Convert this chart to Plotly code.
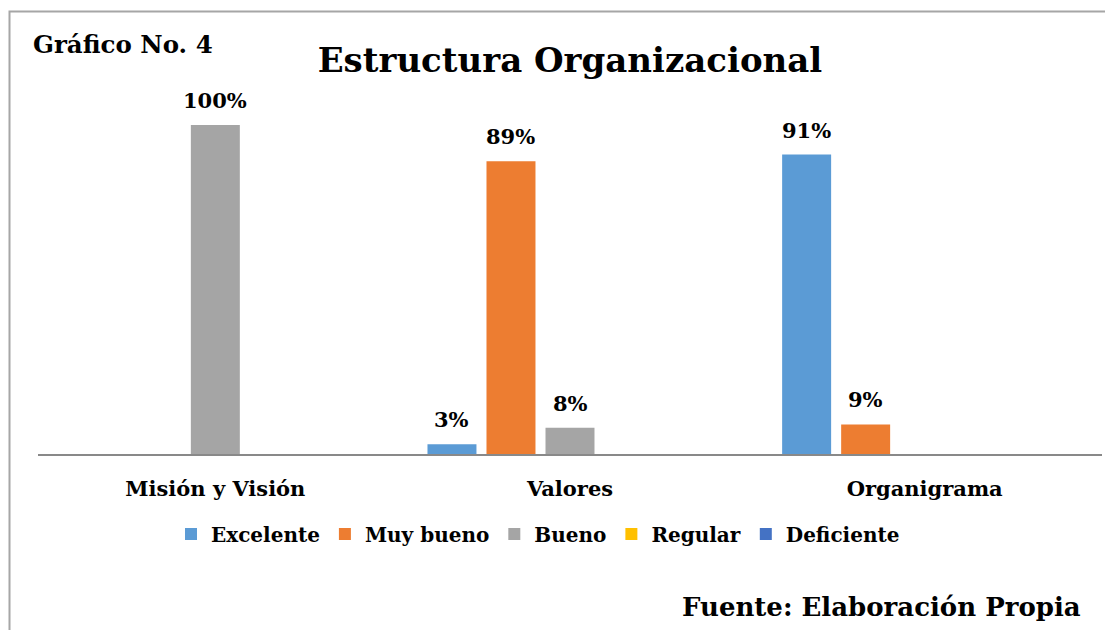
import plotly.graph_objects as go

categories = ["Misión y Visión", "Valores", "Organigrama"]
series_names = ["Excelente", "Muy bueno", "Bueno", "Regular", "Deficiente"]
excelente = [0, 3, 91]
muy_bueno = [0, 89, 9]
bueno = [100, 8, 0]
regular = [0, 0, 0]
deficiente = [0, 0, 0]
series_values = [excelente, muy_bueno, bueno, regular, deficiente]
colors = ["#5B9BD5", "#ED7D31", "#A5A5A5", "#FFC000", "#4472C4"]

FONT = "DejaVu Serif"
OFF = 8  # page offset of the figure inside the browser window
W, H = 1113, 630
ML, MR = 38 - OFF, W - (1102 - OFF)
MT, MB = 80, H - (454 - OFF)
BARGAP = 0.168
plot_w = W - ML - MR
plot_h = H - MT - MB
ymax = plot_h / 329 * 100


def px_x(px):
    return (px - OFF - ML) / plot_w


def px_y(py):
    return (H - MB - (py - OFF)) / plot_h


fig = go.Figure()
for name, vals, col in zip(series_names, series_values, colors):
    fig.add_trace(go.Bar(name=name, x=categories, y=vals, marker=dict(color=col, line=dict(width=0))))

slot = plot_w / len(categories) * (1 - BARGAP) / len(series_names)
annotations = []
for i, vals in enumerate(series_values):
    for c, v in zip(categories, vals):
        if v:
            annotations.append(dict(x=c, y=v, xref="x", yref="y", text=f"<b>{v}%</b>",
                                    showarrow=False, yanchor="bottom", xanchor="center",
                                    xshift=(i - 2) * slot, yshift=10,
                                    font=dict(family=FONT, size=21, color="#000000")))

annotations.append(dict(x=px_x(31), y=px_y(45), xref="paper", yref="paper", text="<b>Gráfico No. 4</b>",
                        showarrow=False, xanchor="left", yanchor="middle",
                        font=dict(family=FONT, size=24.5, color="#000000")))
annotations.append(dict(x=px_x(1083), y=px_y(607), xref="paper", yref="paper", text="<b>Fuente: Elaboración Propia</b>",
                        showarrow=False, xanchor="right", yanchor="middle",
                        font=dict(family=FONT, size=26, color="#000000")))

fig.update_layout(
    width=W, height=H,
    margin=dict(l=ML, r=MR, t=MT, b=MB),
    paper_bgcolor="white", plot_bgcolor="white",
    barmode="group", bargap=BARGAP, bargroupgap=0.17,
    title=dict(text="<b>Estructura Organizacional</b>", x=0.5, xref="paper", xanchor="center",
               y=1 - (60 - OFF) / H, yref="container", yanchor="middle",
               font=dict(family=FONT, size=34, color="#000000")),
    xaxis=dict(showline=True, linecolor="#898989", linewidth=1.5, showgrid=False, ticks="",
               ticklabelstandoff=15,
               tickfont=dict(family=FONT, size=21, color="#000000", weight="bold")),
    yaxis=dict(visible=False, range=[0, ymax], showgrid=False, zeroline=False),
    showlegend=True,
    legend=dict(orientation="h", x=px_x(538), xanchor="center", y=px_y(534), yanchor="middle",
                font=dict(family=FONT, size=20, color="#000000", weight="bold"),
                itemwidth=30, traceorder="normal"),
    annotations=annotations,
    shapes=[dict(type="path", xref="paper", yref="paper",
                 path=f"M {px_x(9.5)},{px_y(640)} L {px_x(9.5)},{px_y(11.5)} L {px_x(1125)},{px_y(11.5)}",
                 line=dict(color="#A6A6A6", width=2))],
)

fig.write_html("out.html")
